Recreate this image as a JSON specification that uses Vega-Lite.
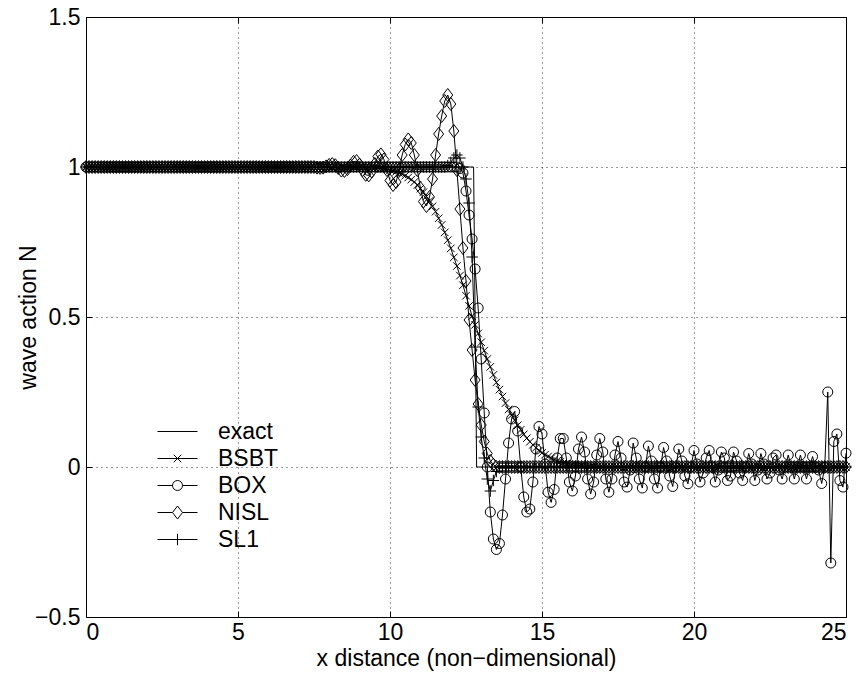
{
"$schema": "https://vega.github.io/schema/vega-lite/v6.json",
"width": 760, "height": 600,
"autosize": {"type": "none"},
"padding": {"left": 86, "top": 17, "right": 14, "bottom": 56},
"background": "white",
"config": {
  "font": "Liberation Sans",
  "view": {"stroke": "black", "strokeWidth": 1},
  "axis": {"labelFont": "Liberation Sans", "labelFontSize": 23, "labelColor": "black", "titleFont": "Liberation Sans", "titleFontSize": 23, "titleFontWeight": "normal", "titleColor": "black", "domain": false, "tickColor": "black", "tickSize": -6, "tickWidth": 1, "gridColor": "black", "gridDash": [1, 4], "gridWidth": 0.8, "gridOpacity": 1},
  "legend": {"orient": "none", "legendX": 80, "legendY": 403, "symbolSize": 100, "symbolStrokeWidth": 1, "symbolStrokeColor": "black", "symbolFillColor": "transparent", "symbolOpacity": 1, "labelFont": "Liberation Sans", "labelFontSize": 23, "labelColor": "black", "labelOffset": 29, "rowPadding": 3, "padding": 0, "title": null}
},
"datasets": {
"exact": [{"x": 0, "N": 1}, {"x": 12.75, "N": 1}, {"x": 12.85, "N": 0}, {"x": 25, "N": 0}],
"names": [{"method": "exact"}, {"method": "BSBT"}, {"method": "BOX"}, {"method": "NISL"}, {"method": "SL1"}],
"grid": [
{"x":0,"BSBT":1,"BOX":1,"NISL":1,"SL1":1},{"x":0.1,"BSBT":1,"BOX":1,"NISL":1,"SL1":1},{"x":0.2,"BSBT":1,"BOX":1,"NISL":1,"SL1":1},{"x":0.3,"BSBT":1,"BOX":1,"NISL":1,"SL1":1},{"x":0.4,"BSBT":1,"BOX":1,"NISL":1,"SL1":1},{"x":0.5,"BSBT":1,"BOX":1,"NISL":1,"SL1":1},{"x":0.6,"BSBT":1,"BOX":1,"NISL":1,"SL1":1},{"x":0.7,"BSBT":1,"BOX":1,"NISL":1,"SL1":1},{"x":0.8,"BSBT":1,"BOX":1,"NISL":1,"SL1":1},{"x":0.9,"BSBT":1,"BOX":1,"NISL":1,"SL1":1},
{"x":1,"BSBT":1,"BOX":1,"NISL":1,"SL1":1},{"x":1.1,"BSBT":1,"BOX":1,"NISL":1,"SL1":1},{"x":1.2,"BSBT":1,"BOX":1,"NISL":1,"SL1":1},{"x":1.3,"BSBT":1,"BOX":1,"NISL":1,"SL1":1},{"x":1.4,"BSBT":1,"BOX":1,"NISL":1,"SL1":1},{"x":1.5,"BSBT":1,"BOX":1,"NISL":1,"SL1":1},{"x":1.6,"BSBT":1,"BOX":1,"NISL":1,"SL1":1},{"x":1.7,"BSBT":1,"BOX":1,"NISL":1,"SL1":1},{"x":1.8,"BSBT":1,"BOX":1,"NISL":1,"SL1":1},{"x":1.9,"BSBT":1,"BOX":1,"NISL":1,"SL1":1},
{"x":2,"BSBT":1,"BOX":1,"NISL":1,"SL1":1},{"x":2.1,"BSBT":1,"BOX":1,"NISL":1,"SL1":1},{"x":2.2,"BSBT":1,"BOX":1,"NISL":1,"SL1":1},{"x":2.3,"BSBT":1,"BOX":1,"NISL":1,"SL1":1},{"x":2.4,"BSBT":1,"BOX":1,"NISL":1,"SL1":1},{"x":2.5,"BSBT":1,"BOX":1,"NISL":1,"SL1":1},{"x":2.6,"BSBT":1,"BOX":1,"NISL":1,"SL1":1},{"x":2.7,"BSBT":1,"BOX":1,"NISL":1,"SL1":1},{"x":2.8,"BSBT":1,"BOX":1,"NISL":1,"SL1":1},{"x":2.9,"BSBT":1,"BOX":1,"NISL":1,"SL1":1},
{"x":3,"BSBT":1,"BOX":1,"NISL":1,"SL1":1},{"x":3.1,"BSBT":1,"BOX":1,"NISL":1,"SL1":1},{"x":3.2,"BSBT":1,"BOX":1,"NISL":1,"SL1":1},{"x":3.3,"BSBT":1,"BOX":1,"NISL":1,"SL1":1},{"x":3.4,"BSBT":1,"BOX":1,"NISL":1,"SL1":1},{"x":3.5,"BSBT":1,"BOX":1,"NISL":1,"SL1":1},{"x":3.6,"BSBT":1,"BOX":1,"NISL":1,"SL1":1},{"x":3.7,"BSBT":1,"BOX":1,"NISL":1,"SL1":1},{"x":3.8,"BSBT":1,"BOX":1,"NISL":1,"SL1":1},{"x":3.9,"BSBT":1,"BOX":1,"NISL":1,"SL1":1},
{"x":4,"BSBT":1,"BOX":1,"NISL":1,"SL1":1},{"x":4.1,"BSBT":1,"BOX":1,"NISL":1,"SL1":1},{"x":4.2,"BSBT":1,"BOX":1,"NISL":1,"SL1":1},{"x":4.3,"BSBT":1,"BOX":1,"NISL":1,"SL1":1},{"x":4.4,"BSBT":1,"BOX":1,"NISL":1,"SL1":1},{"x":4.5,"BSBT":1,"BOX":1,"NISL":1,"SL1":1},{"x":4.6,"BSBT":1,"BOX":1,"NISL":1,"SL1":1},{"x":4.7,"BSBT":1,"BOX":1,"NISL":1,"SL1":1},{"x":4.8,"BSBT":1,"BOX":1,"NISL":1,"SL1":1},{"x":4.9,"BSBT":1,"BOX":1,"NISL":1,"SL1":1},
{"x":5,"BSBT":1,"BOX":1,"NISL":1,"SL1":1},{"x":5.1,"BSBT":1,"BOX":1,"NISL":1,"SL1":1},{"x":5.2,"BSBT":1,"BOX":1,"NISL":1,"SL1":1},{"x":5.3,"BSBT":1,"BOX":1,"NISL":1,"SL1":1},{"x":5.4,"BSBT":1,"BOX":1,"NISL":1,"SL1":1},{"x":5.5,"BSBT":1,"BOX":1,"NISL":1,"SL1":1},{"x":5.6,"BSBT":1,"BOX":1,"NISL":1,"SL1":1},{"x":5.7,"BSBT":1,"BOX":1,"NISL":1,"SL1":1},{"x":5.8,"BSBT":1,"BOX":1,"NISL":1,"SL1":1},{"x":5.9,"BSBT":1,"BOX":1,"NISL":1,"SL1":1},
{"x":6,"BSBT":1,"BOX":1,"NISL":1,"SL1":1},{"x":6.1,"BSBT":1,"BOX":1,"NISL":1,"SL1":1},{"x":6.2,"BSBT":1,"BOX":1,"NISL":1,"SL1":1},{"x":6.3,"BSBT":1,"BOX":1,"NISL":1,"SL1":1},{"x":6.4,"BSBT":1,"BOX":1,"NISL":1,"SL1":1},{"x":6.5,"BSBT":1,"BOX":1,"NISL":1,"SL1":1},{"x":6.6,"BSBT":1,"BOX":1,"NISL":1,"SL1":1},{"x":6.7,"BSBT":1,"BOX":1,"NISL":1,"SL1":1},{"x":6.8,"BSBT":1,"BOX":1,"NISL":1,"SL1":1},{"x":6.9,"BSBT":1,"BOX":1,"NISL":1,"SL1":1},
{"x":7,"BSBT":1,"BOX":1,"NISL":1,"SL1":1},{"x":7.1,"BSBT":1,"BOX":1,"NISL":1,"SL1":1},{"x":7.2,"BSBT":1,"BOX":1,"NISL":1,"SL1":1},{"x":7.3,"BSBT":1,"BOX":1,"NISL":1,"SL1":1},{"x":7.4,"BSBT":1,"BOX":1,"NISL":1,"SL1":1},{"x":7.5,"BSBT":1,"BOX":1,"NISL":1,"SL1":1},{"x":7.6,"BSBT":1,"BOX":1,"NISL":0.998,"SL1":1},{"x":7.7,"BSBT":1,"BOX":1,"NISL":0.997,"SL1":1},{"x":7.8,"BSBT":1,"BOX":1,"NISL":0.998,"SL1":1},{"x":7.9,"BSBT":1,"BOX":1,"NISL":1.002,"SL1":1},
{"x":8,"BSBT":1,"BOX":1,"NISL":1.007,"SL1":1},{"x":8.1,"BSBT":1,"BOX":1,"NISL":1.01,"SL1":1},{"x":8.2,"BSBT":1,"BOX":1,"NISL":1.006,"SL1":1},{"x":8.3,"BSBT":1,"BOX":1,"NISL":0.997,"SL1":1},{"x":8.4,"BSBT":1,"BOX":1,"NISL":0.988,"SL1":1},{"x":8.5,"BSBT":1,"BOX":1,"NISL":0.987,"SL1":1},{"x":8.6,"BSBT":1,"BOX":1,"NISL":0.993,"SL1":1},{"x":8.7,"BSBT":1,"BOX":1,"NISL":1.005,"SL1":1},{"x":8.8,"BSBT":1,"BOX":1,"NISL":1.017,"SL1":1},{"x":8.9,"BSBT":1,"BOX":1,"NISL":1.02,"SL1":1},
{"x":9,"BSBT":1,"BOX":1,"NISL":1.008,"SL1":1},{"x":9.1,"BSBT":1,"BOX":1,"NISL":0.99,"SL1":1},{"x":9.2,"BSBT":1,"BOX":1,"NISL":0.974,"SL1":1},{"x":9.3,"BSBT":0.999,"BOX":1,"NISL":0.972,"SL1":1},{"x":9.4,"BSBT":0.998,"BOX":1,"NISL":0.985,"SL1":1},{"x":9.5,"BSBT":0.998,"BOX":1,"NISL":1.01,"SL1":1},{"x":9.6,"BSBT":0.997,"BOX":1,"NISL":1.035,"SL1":1},{"x":9.7,"BSBT":0.995,"BOX":1,"NISL":1.042,"SL1":1},{"x":9.8,"BSBT":0.994,"BOX":1,"NISL":1.025,"SL1":1},{"x":9.9,"BSBT":0.992,"BOX":1,"NISL":0.99,"SL1":1},
{"x":10,"BSBT":0.99,"BOX":1,"NISL":0.955,"SL1":1},{"x":10.1,"BSBT":0.987,"BOX":1,"NISL":0.94,"SL1":1},{"x":10.2,"BSBT":0.984,"BOX":1,"NISL":0.95,"SL1":1},{"x":10.3,"BSBT":0.98,"BOX":1,"NISL":0.99,"SL1":1},{"x":10.4,"BSBT":0.976,"BOX":1,"NISL":1.04,"SL1":1},{"x":10.5,"BSBT":0.971,"BOX":1,"NISL":1.075,"SL1":1},{"x":10.6,"BSBT":0.965,"BOX":1,"NISL":1.092,"SL1":1},{"x":10.7,"BSBT":0.958,"BOX":1,"NISL":1.08,"SL1":1},{"x":10.8,"BSBT":0.95,"BOX":1,"NISL":1.04,"SL1":1},{"x":10.9,"BSBT":0.94,"BOX":1,"NISL":0.99,"SL1":1},
{"x":11,"BSBT":0.928,"BOX":1,"NISL":0.93,"SL1":1},{"x":11.1,"BSBT":0.916,"BOX":1,"NISL":0.885,"SL1":1},{"x":11.2,"BSBT":0.902,"BOX":1,"NISL":0.87,"SL1":1},{"x":11.3,"BSBT":0.887,"BOX":1,"NISL":0.9,"SL1":1},{"x":11.4,"BSBT":0.869,"BOX":1,"NISL":0.96,"SL1":1},{"x":11.5,"BSBT":0.851,"BOX":1,"NISL":1.04,"SL1":1},{"x":11.6,"BSBT":0.829,"BOX":1,"NISL":1.11,"SL1":1},{"x":11.7,"BSBT":0.807,"BOX":1,"NISL":1.17,"SL1":1},{"x":11.8,"BSBT":0.782,"BOX":1,"NISL":1.22,"SL1":1},{"x":11.9,"BSBT":0.756,"BOX":1,"NISL":1.24,"SL1":1.005},
{"x":12,"BSBT":0.729,"BOX":1,"NISL":1.21,"SL1":1.015},{"x":12.1,"BSBT":0.699,"BOX":1,"NISL":1.12,"SL1":1.03},{"x":12.2,"BSBT":0.67,"BOX":1,"NISL":0.99,"SL1":1.04},{"x":12.3,"BSBT":0.638,"BOX":0.995,"NISL":0.86,"SL1":1.03},{"x":12.4,"BSBT":0.606,"BOX":0.98,"NISL":0.73,"SL1":1},{"x":12.5,"BSBT":0.571,"BOX":0.92,"NISL":0.62,"SL1":0.96},{"x":12.6,"BSBT":0.537,"BOX":0.84,"NISL":0.49,"SL1":0.88},{"x":12.7,"BSBT":0.503,"BOX":0.76,"NISL":0.39,"SL1":0.7},{"x":12.8,"BSBT":0.474,"BOX":0.66,"NISL":0.29,"SL1":0.4},{"x":12.9,"BSBT":0.445,"BOX":0.53,"NISL":0.21,"SL1":0.2},
{"x":13,"BSBT":0.416,"BOX":0.36,"NISL":0.14,"SL1":0.1},{"x":13.1,"BSBT":0.388,"BOX":0.18,"NISL":0.085,"SL1":0.03},{"x":13.2,"BSBT":0.36,"BOX":0,"NISL":0.045,"SL1":-0.04},{"x":13.3,"BSBT":0.334,"BOX":-0.15,"NISL":0.02,"SL1":-0.08},{"x":13.4,"BSBT":0.307,"BOX":-0.24,"NISL":0.008,"SL1":-0.045},{"x":13.5,"BSBT":0.282,"BOX":-0.275,"NISL":0,"SL1":-0.015},{"x":13.6,"BSBT":0.258,"BOX":-0.255,"NISL":0,"SL1":0},{"x":13.7,"BSBT":0.235,"BOX":-0.16,"NISL":0,"SL1":0},{"x":13.8,"BSBT":0.213,"BOX":-0.04,"NISL":0,"SL1":0},{"x":13.9,"BSBT":0.192,"BOX":0.08,"NISL":0,"SL1":0},
{"x":14,"BSBT":0.173,"BOX":0.16,"NISL":0,"SL1":0},{"x":14.1,"BSBT":0.156,"BOX":0.185,"NISL":0,"SL1":0},{"x":14.2,"BSBT":0.139,"BOX":0.12,"NISL":0,"SL1":0},{"x":14.3,"BSBT":0.124,"BOX":0,"NISL":0,"SL1":0},{"x":14.4,"BSBT":0.109,"BOX":-0.1,"NISL":0,"SL1":0},{"x":14.5,"BSBT":0.096,"BOX":-0.15,"NISL":0,"SL1":0},{"x":14.6,"BSBT":0.084,"BOX":-0.14,"NISL":0,"SL1":0},{"x":14.7,"BSBT":0.074,"BOX":-0.05,"NISL":0,"SL1":0},{"x":14.8,"BSBT":0.064,"BOX":0.06,"NISL":0,"SL1":0},{"x":14.9,"BSBT":0.055,"BOX":0.135,"NISL":0,"SL1":0},
{"x":15,"BSBT":0.047,"BOX":0.11,"NISL":0,"SL1":0},{"x":15.1,"BSBT":0.041,"BOX":0.01,"NISL":0,"SL1":0},{"x":15.2,"BSBT":0.035,"BOX":-0.084,"NISL":0,"SL1":0},{"x":15.3,"BSBT":0.029,"BOX":-0.118,"NISL":0,"SL1":0},{"x":15.4,"BSBT":0.025,"BOX":-0.075,"NISL":0,"SL1":0},{"x":15.5,"BSBT":0.021,"BOX":0.03,"NISL":0,"SL1":0},{"x":15.6,"BSBT":0.017,"BOX":0.095,"NISL":0,"SL1":0},{"x":15.7,"BSBT":0.014,"BOX":0.095,"NISL":0,"SL1":0},{"x":15.8,"BSBT":0.012,"BOX":0.03,"NISL":0,"SL1":0},{"x":15.9,"BSBT":0.01,"BOX":-0.05,"NISL":0,"SL1":0},
{"x":16,"BSBT":0.008,"BOX":-0.08,"NISL":0,"SL1":0},{"x":16.1,"BSBT":0.007,"BOX":-0.03,"NISL":0,"SL1":0},{"x":16.2,"BSBT":0.006,"BOX":0.06,"NISL":0,"SL1":0},{"x":16.3,"BSBT":0.005,"BOX":0.1,"NISL":0,"SL1":0},{"x":16.4,"BSBT":0.004,"BOX":0.05,"NISL":0,"SL1":0},{"x":16.5,"BSBT":0.003,"BOX":-0.04,"NISL":0,"SL1":0},{"x":16.6,"BSBT":0.002,"BOX":-0.09,"NISL":0,"SL1":0},{"x":16.7,"BSBT":0.001,"BOX":-0.05,"NISL":0,"SL1":0},{"x":16.8,"BSBT":0.001,"BOX":0.04,"NISL":0,"SL1":0},{"x":16.9,"BSBT":0,"BOX":0.095,"NISL":0,"SL1":0},
{"x":17,"BSBT":0,"BOX":0.05,"NISL":0,"SL1":0},{"x":17.1,"BSBT":0,"BOX":-0.04,"NISL":0,"SL1":0},{"x":17.2,"BSBT":0,"BOX":-0.084,"NISL":0,"SL1":0},{"x":17.3,"BSBT":0,"BOX":-0.04,"NISL":0,"SL1":0},{"x":17.4,"BSBT":0,"BOX":0.04,"NISL":0,"SL1":0},{"x":17.5,"BSBT":0,"BOX":0.085,"NISL":0,"SL1":0},{"x":17.6,"BSBT":0,"BOX":0.03,"NISL":0,"SL1":0},{"x":17.7,"BSBT":0,"BOX":-0.05,"NISL":0,"SL1":0},{"x":17.8,"BSBT":0,"BOX":-0.067,"NISL":0,"SL1":0},{"x":17.9,"BSBT":0,"BOX":-0.01,"NISL":0,"SL1":0},
{"x":18,"BSBT":0,"BOX":0.08,"NISL":0,"SL1":0},{"x":18.1,"BSBT":0,"BOX":0.03,"NISL":0,"SL1":0},{"x":18.2,"BSBT":0,"BOX":-0.04,"NISL":0,"SL1":0},{"x":18.3,"BSBT":0,"BOX":-0.07,"NISL":0,"SL1":0},{"x":18.4,"BSBT":0,"BOX":0,"NISL":0,"SL1":0},{"x":18.5,"BSBT":0,"BOX":0.07,"NISL":0,"SL1":0},{"x":18.6,"BSBT":0,"BOX":0.02,"NISL":0,"SL1":0},{"x":18.7,"BSBT":0,"BOX":-0.04,"NISL":0,"SL1":0},{"x":18.8,"BSBT":0,"BOX":-0.07,"NISL":0,"SL1":0},{"x":18.9,"BSBT":0,"BOX":0,"NISL":0,"SL1":0},
{"x":19,"BSBT":0,"BOX":0.065,"NISL":0,"SL1":0},{"x":19.1,"BSBT":0,"BOX":0.02,"NISL":0,"SL1":0},{"x":19.2,"BSBT":0,"BOX":-0.03,"NISL":0,"SL1":0},{"x":19.3,"BSBT":0,"BOX":-0.065,"NISL":0,"SL1":0},{"x":19.4,"BSBT":0,"BOX":0,"NISL":0,"SL1":0},{"x":19.5,"BSBT":0,"BOX":0.06,"NISL":0,"SL1":0},{"x":19.6,"BSBT":0,"BOX":0.02,"NISL":0,"SL1":0},{"x":19.7,"BSBT":0,"BOX":-0.03,"NISL":0,"SL1":0},{"x":19.8,"BSBT":0,"BOX":-0.056,"NISL":0,"SL1":0},{"x":19.9,"BSBT":0,"BOX":0,"NISL":0,"SL1":0},
{"x":20,"BSBT":0,"BOX":0.055,"NISL":0,"SL1":0},{"x":20.1,"BSBT":0,"BOX":0.01,"NISL":0,"SL1":0},{"x":20.2,"BSBT":0,"BOX":-0.05,"NISL":0,"SL1":0},{"x":20.3,"BSBT":0,"BOX":-0.02,"NISL":0,"SL1":0},{"x":20.4,"BSBT":0,"BOX":0.03,"NISL":0,"SL1":0},{"x":20.5,"BSBT":0,"BOX":0.055,"NISL":0,"SL1":0},{"x":20.6,"BSBT":0,"BOX":0,"NISL":0,"SL1":0},{"x":20.7,"BSBT":0,"BOX":-0.05,"NISL":0,"SL1":0},{"x":20.8,"BSBT":0,"BOX":-0.01,"NISL":0,"SL1":0},{"x":20.9,"BSBT":0,"BOX":0.05,"NISL":0,"SL1":0},
{"x":21,"BSBT":0,"BOX":0.03,"NISL":0,"SL1":0},{"x":21.1,"BSBT":0,"BOX":-0.045,"NISL":0,"SL1":0},{"x":21.2,"BSBT":0,"BOX":-0.03,"NISL":0,"SL1":0},{"x":21.3,"BSBT":0,"BOX":0.05,"NISL":0,"SL1":0},{"x":21.4,"BSBT":0,"BOX":0.02,"NISL":0,"SL1":0},{"x":21.5,"BSBT":0,"BOX":-0.02,"NISL":0,"SL1":0},{"x":21.6,"BSBT":0,"BOX":-0.045,"NISL":0,"SL1":0},{"x":21.7,"BSBT":0,"BOX":0,"NISL":0,"SL1":0},{"x":21.8,"BSBT":0,"BOX":0.045,"NISL":0,"SL1":0},{"x":21.9,"BSBT":0,"BOX":0.01,"NISL":0,"SL1":0},
{"x":22,"BSBT":0,"BOX":-0.045,"NISL":0,"SL1":0},{"x":22.1,"BSBT":0,"BOX":-0.01,"NISL":0,"SL1":0},{"x":22.2,"BSBT":0,"BOX":0.045,"NISL":0,"SL1":0},{"x":22.3,"BSBT":0,"BOX":0.01,"NISL":0,"SL1":0},{"x":22.4,"BSBT":0,"BOX":-0.04,"NISL":0,"SL1":0},{"x":22.5,"BSBT":0,"BOX":-0.02,"NISL":0,"SL1":0},{"x":22.6,"BSBT":0,"BOX":0.03,"NISL":0,"SL1":0},{"x":22.7,"BSBT":0,"BOX":0.04,"NISL":0,"SL1":0},{"x":22.8,"BSBT":0,"BOX":-0.01,"NISL":0,"SL1":0},{"x":22.9,"BSBT":0,"BOX":-0.04,"NISL":0,"SL1":0},
{"x":23,"BSBT":0,"BOX":0,"NISL":0,"SL1":0},{"x":23.1,"BSBT":0,"BOX":0.04,"NISL":0,"SL1":0},{"x":23.2,"BSBT":0,"BOX":0,"NISL":0,"SL1":0},{"x":23.3,"BSBT":0,"BOX":-0.04,"NISL":0,"SL1":0},{"x":23.4,"BSBT":0,"BOX":0,"NISL":0,"SL1":0},{"x":23.5,"BSBT":0,"BOX":0.04,"NISL":0,"SL1":0},{"x":23.6,"BSBT":0,"BOX":0,"NISL":0,"SL1":0},{"x":23.7,"BSBT":0,"BOX":-0.04,"NISL":0,"SL1":0},{"x":23.8,"BSBT":0,"BOX":0,"NISL":0,"SL1":0},{"x":23.9,"BSBT":0,"BOX":0.035,"NISL":0,"SL1":0},
{"x":24,"BSBT":0,"BOX":0,"NISL":0,"SL1":0},{"x":24.1,"BSBT":0,"BOX":-0.01,"NISL":0,"SL1":0},{"x":24.2,"BSBT":0,"BOX":-0.055,"NISL":0,"SL1":0},{"x":24.3,"BSBT":0,"BOX":0,"NISL":0,"SL1":0},{"x":24.4,"BSBT":0,"BOX":0.25,"NISL":0,"SL1":0},{"x":24.5,"BSBT":0,"BOX":-0.32,"NISL":0,"SL1":0},{"x":24.6,"BSBT":0,"BOX":0.085,"NISL":0,"SL1":0},{"x":24.7,"BSBT":0,"BOX":0.11,"NISL":0,"SL1":0},{"x":24.8,"BSBT":0,"BOX":-0.045,"NISL":0,"SL1":0},{"x":24.9,"BSBT":0,"BOX":-0.067,"NISL":0,"SL1":0},
{"x":25,"BSBT":0,"BOX":0.046,"NISL":0,"SL1":0}
]
},
"layer": [
  {
    "data": {"name": "exact"},
    "mark": {"type": "line", "color": "black", "strokeWidth": 1},
    "encoding": {
      "x": {"field": "x", "type": "quantitative", "scale": {"domain": [0, 25], "nice": false, "zero": false},
            "axis": {"orient": "bottom", "values": [0, 5, 10, 15, 20, 25], "format": "~g", "grid": true, "labelPadding": 10, "title": "x distance (non−dimensional)", "titlePadding": 3}},
      "y": {"field": "N", "type": "quantitative", "scale": {"domain": [-0.5, 1.5], "nice": false, "zero": false},
            "axis": {"orient": "left", "values": [-0.5, 0, 0.5, 1, 1.5], "format": "~g", "grid": true, "labelPadding": 12, "title": "wave action N", "titlePadding": -6}}
    }
  },
  {
    "data": {"name": "grid"},
    "transform": [{"fold": ["BSBT", "BOX", "NISL", "SL1"], "as": ["method", "N"]}],
    "mark": {"type": "line", "color": "black", "strokeWidth": 1},
    "encoding": {
      "x": {"field": "x", "type": "quantitative", "axis": {"orient": "top", "values": [0, 5, 10, 15, 20, 25], "labels": false, "grid": false, "title": null}},
      "y": {"field": "N", "type": "quantitative", "axis": {"orient": "right", "values": [-0.5, 0, 0.5, 1, 1.5], "labels": false, "grid": false, "title": null}},
      "detail": {"field": "method"}
    }
  },
  {
    "data": {"name": "grid"},
    "transform": [{"fold": ["BSBT", "BOX", "NISL", "SL1"], "as": ["method", "N"]}],
    "mark": {"type": "point", "filled": false, "color": "black", "strokeWidth": 1, "size": 100, "opacity": 1},
    "encoding": {
      "x": {"field": "x", "type": "quantitative", "axis": null},
      "y": {"field": "N", "type": "quantitative", "axis": null},
      "shape": {"field": "method", "type": "nominal", "legend": null,
        "scale": {"domain": ["BSBT", "BOX", "NISL", "SL1"],
                  "range": ["M-0.75,-0.75L0.75,0.75M-0.75,0.75L0.75,-0.75", "circle", "M0,-1.3L1,0L0,1.3L-1,0Z", "M-1.15,0L1.15,0M0,-1.15L0,1.15"]}}
    }
  },
  {
    "data": {"name": "names"},
    "mark": {"type": "point", "filled": false, "color": "black", "opacity": 0},
    "encoding": {
      "shape": {"field": "method", "type": "nominal",
        "scale": {"domain": ["exact", "BSBT", "BOX", "NISL", "SL1"],
                  "range": ["M-4,0L4,0", "M-4,0L4,0M-0.75,-0.75L0.75,0.75M-0.75,0.75L0.75,-0.75", "M-4,0L-1,0M1,0L4,0M-1,0A1,1 0 1,1 1,0A1,1 0 1,1 -1,0", "M-4,0L-1,0M1,0L4,0M0,-1.3L1,0L0,1.3L-1,0Z", "M-4,0L4,0M0,-1.15L0,1.15"]},
        "legend": {"title": null}}
    }
  }
],
"resolve": {"axis": {"x": "independent", "y": "independent"}, "scale": {"shape": "independent"}, "legend": {"shape": "independent"}}
}
